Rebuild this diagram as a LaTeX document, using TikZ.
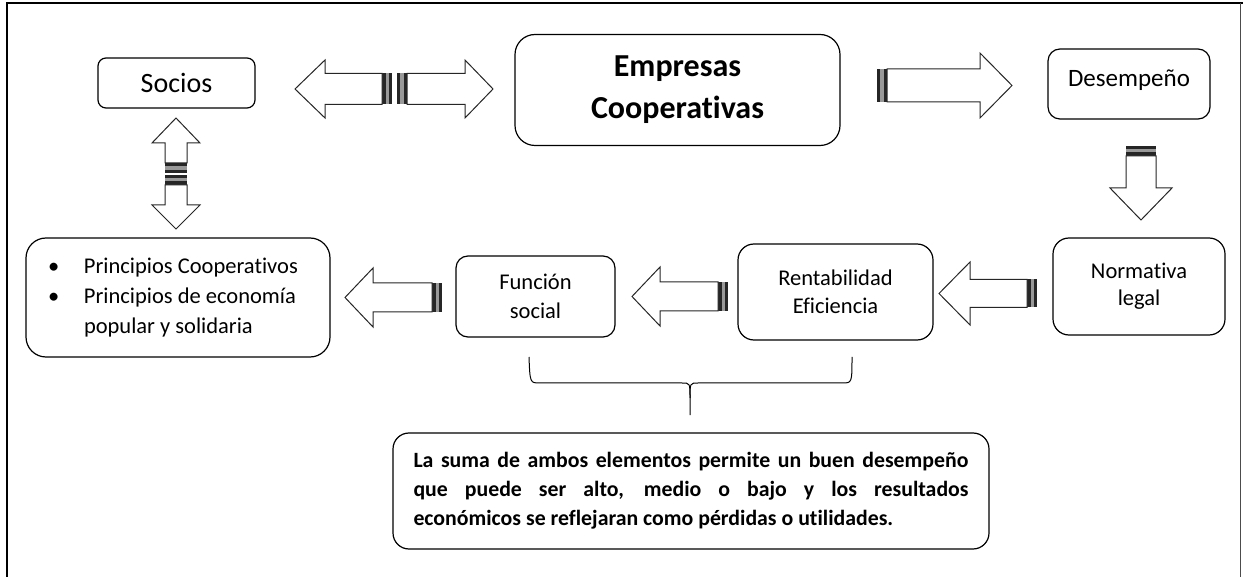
\documentclass[tikz,border=0pt]{standalone}
\usepackage{fontspec}
\setmainfont{Carlito}[Ligatures={NoCommon}]

\tikzset{
  box/.style={draw, rounded corners=6pt, line width=0.6pt, align=center, inner sep=0pt},
  pics/striped/.style n args={4}{code={
    % #1 length, #2 half head, #3 half shaft, #4 head length
    \fill[black!85] (0,-#3) rectangle (3,#3);
    \fill[black!40] (3,-#3) rectangle (6.5,#3);
    \fill[black!85] (6.5,-#3) rectangle (10,#3);
    \draw[fill=white, draw=black!85, line width=0.5pt]
      (10,-#3) -- ({#1-#4},-#3) -- ({#1-#4},-#2) -- (#1,0)
      -- ({#1-#4},#2) -- ({#1-#4},#3) -- (10,#3) -- cycle;
  }}
}

\begin{document}
\begin{tikzpicture}[x=0.5pt, y=-0.5pt, font=\fontsize{11.25}{14}\selectfont]
  \useasboundingbox (0,0) rectangle (1243,577);
  % frame
  \draw[line width=1.4pt] (7,577) -- (7,3) -- (1243,3);
  \draw[line width=0.4pt, black!70] (1240,3) -- (1240,577);

  % boxes
  \node[box, minimum width=78.5pt, minimum height=25pt, rounded corners=4pt,
    font=\fontsize{14}{17}\selectfont] (socios) at (176.5,83) {Socios};
  \node[box, minimum width=162.5pt, minimum height=55.5pt, rounded corners=10pt,
    font=\bfseries\fontsize{16}{21}\selectfont] (empresas) at (677.5,90) {Empresas\\Cooperativas};
  \node[box, minimum width=81pt, minimum height=35pt,
    font=\fontsize{12.5}{15}\selectfont] (desemp) at (1129,84) {\raisebox{6pt}{Desempeño}};
  \node[box, minimum width=86pt, minimum height=48.5pt, rounded corners=8pt,
    font=\fontsize{11.25}{13.5}\selectfont] (normativa) at (1139,286.5) {Normativa\\legal};
  \node[box, minimum width=97.5pt, minimum height=48pt, rounded corners=8pt]
    (rentab) at (835.5,292) {Rentabilidad\\Eficiencia};
  \node[box, minimum width=79.5pt, minimum height=40.5pt,
    font=\fontsize{11.25}{14.5}\selectfont] (funcion) at (535.5,296.5) {Función\\social};
  \node[box, minimum width=152pt, minimum height=59.5pt, rounded corners=10pt,
    text width=130pt, align=flush left, font=\fontsize{11.25}{15}\selectfont] (principios) at (178,297.5)
    {\makebox[18pt][l]{•}Principios Cooperativos\\\makebox[18pt][l]{•}Principios de economía\\\hspace*{18pt}popular y solidaria};
  \node[box, minimum width=298pt, minimum height=58pt, rounded corners=8pt,
    text width=277.5pt, align=justify, font=\bfseries\fontsize{10.9}{14.5}\selectfont] (suma) at (691,491)
    {La suma de ambos elementos permite un buen desempeño\linebreak que puede ser alto, medio o bajo y los resultados\linebreak económicos se reflejaran como pérdidas o utilidades.};

  % striped arrows
  \coordinate (a1) at (442,297.5);
  \coordinate (a2) at (728,296.5);
  \coordinate (a3) at (1037,293.5);
  \coordinate (a4) at (877,85.5);
  \coordinate (a5) at (1141,146);
  \coordinate (a6l) at (392,89);
  \coordinate (a6r) at (397,89);
  \coordinate (a7u) at (176,173);
  \coordinate (a7d) at (176,175);
  \pic[rotate=180] at (a1) {striped={97}{29.5}{14.5}{28}};
  \pic[rotate=180] at (a2) {striped={96}{29.5}{14.5}{28}};
  \pic[rotate=180] at (a3) {striped={98}{31.5}{14}{31}};
  \pic at (a4) {striped={135}{32.5}{16.5}{32}};
  \pic[rotate=-90] at (a5) {striped={74}{31}{15}{32}};
  \pic[rotate=180] at (a6l) {striped={97}{29}{15.5}{30}};
  \pic at (a6r) {striped={96}{29}{15.5}{28}};
  \pic[rotate=90] at (a7u) {striped={55}{24}{11}{25}};
  \pic[rotate=-90] at (a7d) {striped={54}{24}{11}{24}};

  % brace under the two middle boxes
  \draw[line width=0.5pt] (529,357) .. controls (530,383) .. (540,383) -- (682,383)
    .. controls (690,383) .. (690,398) -- (690,415);
  \draw[line width=0.5pt] (690,398) .. controls (690,383) .. (698,383) -- (842,383)
    .. controls (852,383) .. (852,357);
\end{tikzpicture}
\end{document}
